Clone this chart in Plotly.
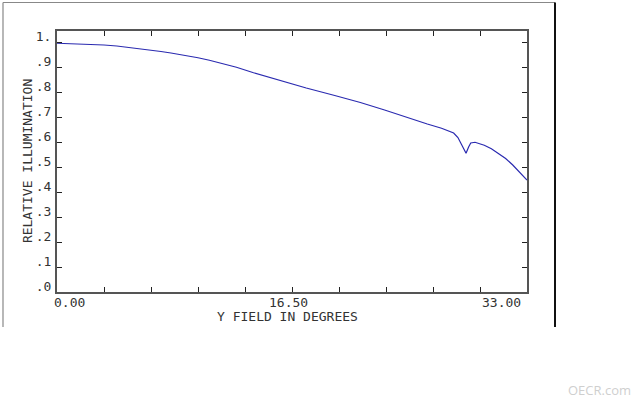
import plotly.graph_objects as go

# Data
field_deg = [0.0, 1.65, 3.3, 4.2, 5.0, 5.8, 6.6, 7.3, 8.0, 9.0, 9.9, 10.7, 11.5, 12.6, 13.8,
             15.5, 17.5, 19.5, 21.3, 23.0, 24.6, 25.3, 26.0, 27.0, 27.6, 27.85, 28.15, 28.45,
             28.72, 28.9, 29.05, 29.35, 30.0, 30.5, 30.9, 31.5, 32.0, 32.5, 33.0]
rel_illum = [0.995, 0.993, 0.988, 0.984, 0.979, 0.974, 0.968, 0.962, 0.956, 0.947, 0.937,
             0.927, 0.916, 0.899, 0.877, 0.848, 0.816, 0.786, 0.758, 0.728, 0.697, 0.685,
             0.672, 0.655, 0.643, 0.636, 0.618, 0.585, 0.555, 0.580, 0.596, 0.599, 0.587,
             0.573, 0.558, 0.534, 0.508, 0.480, 0.448]

y_tickvals = [0.0, 0.1, 0.2, 0.3, 0.4, 0.5, 0.6, 0.7, 0.8, 0.9, 1.0]
y_ticktext = [".0", ".1", ".2", ".3", ".4", ".5", ".6", ".7", ".8", ".9", "1."]
x_label_vals = [0.0, 16.5, 33.0]
x_label_text = ["0.00", "16.50", "33.00"]
x_label_shift = [12, -4, -26]

FONT = "DejaVu Sans Mono"

fig = go.Figure()
fig.add_trace(go.Scatter(x=field_deg, y=rel_illum, mode="lines",
                         line=dict(color="#2a2ab0", width=1.2), showlegend=False))

fig.update_layout(
    width=640, height=400,
    margin=dict(l=57, r=113, t=31, b=108),
    paper_bgcolor="white", plot_bgcolor="white",
    font=dict(family=FONT, size=13, color="#333"),
    xaxis=dict(range=[0, 33], tickmode="linear", tick0=0, dtick=3.3,
               ticks="inside", ticklen=5, tickcolor="#222", tickwidth=1,
               showticklabels=False, showgrid=False, zeroline=False,
               showline=True, linecolor="#555", linewidth=2, mirror="ticks"),
    yaxis=dict(range=[0, 1.044], tickvals=y_tickvals, ticktext=y_ticktext,
               ticks="inside", ticklen=5, tickcolor="#222", tickwidth=1,
               showgrid=False, zeroline=False, ticklabelshift=-6, ticklabelstandoff=1,
               tickfont=dict(family=FONT, size=13, color="#333"),
               showline=True, linecolor="#555", linewidth=2, mirror="ticks"),
)

for v, t, s in zip(x_label_vals, x_label_text, x_label_shift):
    fig.add_annotation(x=v, y=0, xref="x", yref="paper", yanchor="top", yshift=-1,
                       xshift=s, text=t, showarrow=False,
                       font=dict(family=FONT, size=13, color="#333"))

fig.add_annotation(x=0.49, y=-0.094, xref="paper", yref="paper", text="Y FIELD IN DEGREES",
                   showarrow=False, xanchor="center", yanchor="middle",
                   font=dict(family=FONT, size=13, color="#333"))
fig.add_annotation(x=-0.063, y=0.503, xref="paper", yref="paper", text="RELATIVE ILLUMINATION",
                   showarrow=False, textangle=-90, xanchor="center", yanchor="middle",
                   font=dict(family=FONT, size=13, color="#333"))
fig.add_annotation(x=1.0, y=0.0, xref="paper", yref="paper", xshift=113-7, yshift=-108+10,
                   text="OECR.com", showarrow=False, xanchor="right", yanchor="middle",
                   font=dict(family="Open Sans", size=13, color="#cfcfcf"))

# Outer frame
L, R, T, B = (3 - 57) / 470, (555 - 57) / 470, (292 - 2.5) / 261, (292 - 327) / 261
fig.add_shape(type="line", xref="paper", yref="paper", x0=L, x1=L, y0=B, y1=T,
              line=dict(color="#888", width=1.2))
fig.add_shape(type="line", xref="paper", yref="paper", x0=L, x1=R, y0=T, y1=T,
              line=dict(color="#888", width=1.2))
fig.add_shape(type="line", xref="paper", yref="paper", x0=R, x1=R, y0=B, y1=T,
              line=dict(color="#111", width=2))

fig.write_html("out.html")
